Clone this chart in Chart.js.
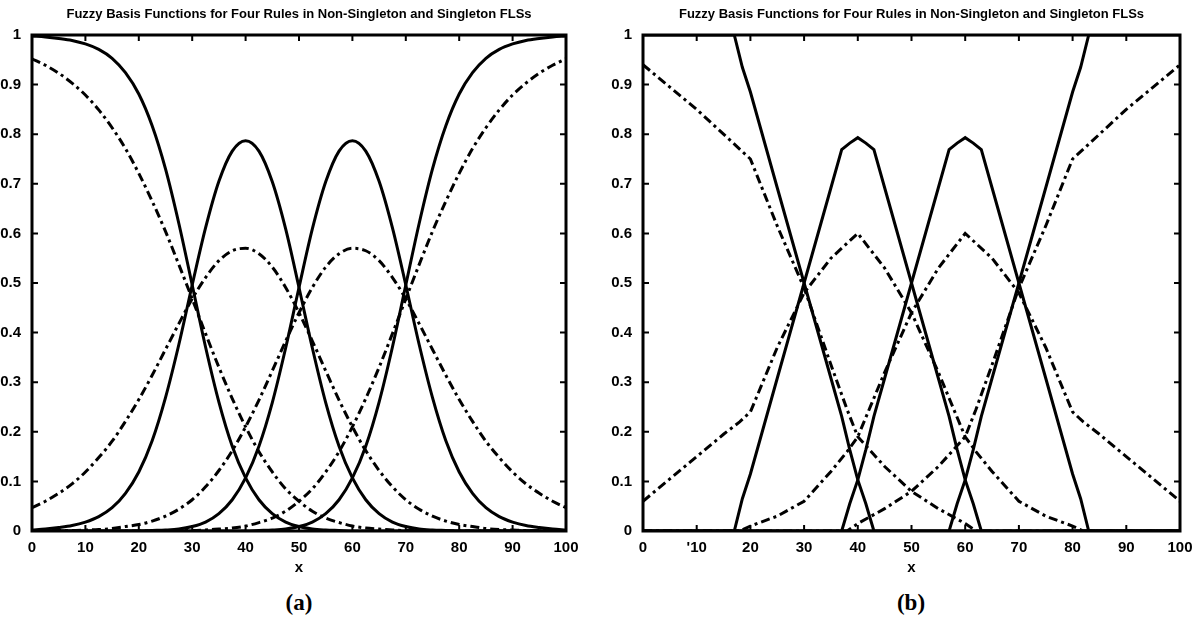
<!DOCTYPE html>
<html>
<head>
<meta charset="utf-8">
<script src="https://cdn.jsdelivr.net/npm/chart.js@4.4.0/dist/chart.umd.min.js"></script>
<style>
  body { margin: 0; background: #fff; width: 1198px; height: 624px; overflow: hidden; position: relative; }
  .panel { position: absolute; top: 0; width: 599px; height: 580px; }
  .caption { position: absolute; top: 590px; width: 100px; text-align: center; color: #000;
             font: bold 23px 'Liberation Serif', 'DejaVu Serif', serif; }
</style>
</head>
<body>
<div class="panel" style="left:0"><canvas id="chartA" width="599" height="580"></canvas></div>
<div class="panel" style="left:599px"><canvas id="chartB" width="599" height="580"></canvas></div>
<div class="caption" style="left:249px">(a)</div>
<div class="caption" style="left:861px">(b)</div>
<script>
const titleText = 'Fuzzy Basis Functions for Four Rules in Non-Singleton and Singleton FLSs';
const xTickLabelsA = ['0', '10', '20', '30', '40', '50', '60', '70', '80', '90', '100'];
const xTickLabelsB = ['0', "'10", '20', '30', '40', '50', '60', '70', '80', '90', '100'];
const yTickLabels = ['0', '0.1', '0.2', '0.3', '0.4', '0.5', '0.6', '0.7', '0.8', '0.9', '1'];

// (a) gaussian rules, sampled every 2.5
const xA = [0, 2.5, 5, 7.5, 10, 12.5, 15, 17.5, 20, 22.5, 25, 27.5, 30, 32.5, 35, 37.5, 40, 42.5, 45, 47.5,
            50, 52.5, 55, 57.5, 60, 62.5, 65, 67.5, 70, 72.5, 75, 77.5, 80, 82.5, 85, 87.5, 90, 92.5, 95, 97.5, 100];

const singletonA1 = [0.998, 0.996, 0.993, 0.989, 0.982, 0.971, 0.953, 0.924, 0.881, 0.817, 0.730, 0.620, 0.496, 0.371,
                     0.260, 0.171, 0.107, 0.063, 0.035, 0.018, 0.009, 0.004, 0.002, 0.001, 0, 0, 0, 0, 0, 0,
                     0, 0, 0, 0, 0, 0, 0, 0, 0, 0, 0];
const singletonA2 = [0.002, 0.004, 0.007, 0.011, 0.018, 0.029, 0.047, 0.076, 0.119, 0.182, 0.269, 0.376, 0.496, 0.611,
                     0.705, 0.766, 0.787, 0.766, 0.704, 0.609, 0.491, 0.369, 0.259, 0.171, 0.107, 0.063, 0.035, 0.018,
                     0.009, 0.004, 0.002, 0.001, 0, 0, 0, 0, 0, 0, 0, 0, 0];
const singletonA3 = [0, 0, 0, 0, 0, 0, 0, 0, 0, 0.001, 0.002, 0.004, 0.009, 0.018, 0.035, 0.063, 0.107, 0.171, 0.259,
                     0.369, 0.491, 0.609, 0.704, 0.766, 0.787, 0.766, 0.705, 0.611, 0.496, 0.376, 0.269, 0.182, 0.119,
                     0.076, 0.047, 0.029, 0.018, 0.011, 0.007, 0.004, 0.002];
const singletonA4 = [0, 0, 0, 0, 0, 0, 0, 0, 0, 0, 0, 0, 0, 0, 0, 0, 0, 0.001, 0.002, 0.004, 0.009, 0.018, 0.035,
                     0.063, 0.107, 0.171, 0.260, 0.371, 0.496, 0.620, 0.730, 0.817, 0.881, 0.924, 0.953, 0.971, 0.982,
                     0.989, 0.993, 0.996, 0.998];

const nonSingletonA1 = [0.952, 0.939, 0.923, 0.903, 0.879, 0.849, 0.813, 0.771, 0.721, 0.665, 0.604, 0.537, 0.468,
                        0.398, 0.330, 0.267, 0.210, 0.160, 0.119, 0.085, 0.060, 0.040, 0.026, 0.017, 0.010, 0.006,
                        0.004, 0.002, 0.001, 0.001, 0, 0, 0, 0, 0, 0, 0, 0, 0, 0, 0];
const nonSingletonA2 = [0.047, 0.060, 0.076, 0.095, 0.119, 0.148, 0.181, 0.221, 0.265, 0.314, 0.366, 0.418, 0.468,
                        0.511, 0.545, 0.565, 0.570, 0.559, 0.532, 0.491, 0.440, 0.383, 0.323, 0.264, 0.210, 0.162,
                        0.122, 0.089, 0.063, 0.044, 0.030, 0.020, 0.013, 0.009, 0.005, 0.003, 0.002, 0.001, 0.001,
                        0.001, 0];
const nonSingletonA3 = [0, 0.001, 0.001, 0.001, 0.002, 0.003, 0.005, 0.009, 0.013, 0.020, 0.030, 0.044, 0.063, 0.089,
                        0.122, 0.162, 0.210, 0.264, 0.323, 0.383, 0.440, 0.491, 0.532, 0.559, 0.570, 0.565, 0.545,
                        0.511, 0.468, 0.418, 0.366, 0.314, 0.265, 0.221, 0.181, 0.148, 0.119, 0.095, 0.076, 0.060,
                        0.047];
const nonSingletonA4 = [0, 0, 0, 0, 0, 0, 0, 0, 0, 0, 0, 0.001, 0.001, 0.002, 0.004, 0.006, 0.010, 0.017, 0.026,
                        0.040, 0.060, 0.085, 0.119, 0.160, 0.210, 0.267, 0.330, 0.398, 0.468, 0.537, 0.604, 0.665,
                        0.721, 0.771, 0.813, 0.849, 0.879, 0.903, 0.923, 0.939, 0.952];

// (b) triangular rules, sampled at the corners
const xSolidB = [0, 5, 10, 15, 17, 18.5, 20, 25, 30, 35, 37, 38.5, 40, 41.5, 43, 45, 50, 55, 57, 58.5, 60, 61.5, 63,
                 65, 70, 75, 80, 81.5, 83, 85, 90, 95, 100];
const singletonB1 = [1, 1, 1, 1, 1, 0.935, 0.885, 0.692, 0.500, 0.308, 0.231, 0.164, 0.103, 0.055, 0,
                     0, 0, 0, 0, 0, 0, 0, 0, 0, 0, 0, 0, 0, 0, 0, 0, 0, 0];
const singletonB2 = [0, 0, 0, 0, 0, 0.065, 0.115, 0.308, 0.500, 0.692, 0.769, 0.782, 0.793, 0.782, 0.769, 0.692,
                     0.500, 0.308, 0.231, 0.164, 0.103, 0.055, 0, 0, 0, 0, 0, 0, 0, 0, 0, 0, 0];
const singletonB3 = [0, 0, 0, 0, 0, 0, 0, 0, 0, 0, 0, 0.055, 0.103, 0.164, 0.231, 0.308, 0.500, 0.692, 0.769,
                     0.782, 0.793, 0.782, 0.769, 0.692, 0.500, 0.308, 0.115, 0.065, 0, 0, 0, 0, 0];
const singletonB4 = [0, 0, 0, 0, 0, 0, 0, 0, 0, 0, 0, 0, 0, 0, 0, 0, 0, 0, 0, 0.055, 0.103, 0.164, 0.231, 0.308,
                     0.500, 0.692, 0.885, 0.935, 1, 1, 1, 1, 1];

const xDashB = [0, 5, 10, 15, 18, 20, 25, 30, 35, 38, 40, 45, 50, 55, 60, 62, 65, 70, 75, 80, 82, 85, 90, 95, 100];
const nonSingletonB1 = [0.94, 0.895, 0.85, 0.80, 0.77, 0.75, 0.615, 0.49, 0.335, 0.245, 0.19, 0.13, 0.08, 0.045,
                        0.015, 0, 0, 0, 0, 0, 0, 0, 0, 0, 0];
const nonSingletonB2 = [0.06, 0.105, 0.15, 0.195, 0.22, 0.24, 0.37, 0.48, 0.55, 0.58, 0.60, 0.53, 0.44, 0.32, 0.19,
                        0.16, 0.12, 0.06, 0.03, 0.01, 0, 0, 0, 0, 0];
const nonSingletonB3 = [0, 0, 0, 0, 0, 0.01, 0.03, 0.06, 0.12, 0.16, 0.19, 0.32, 0.44, 0.53, 0.60, 0.58, 0.55, 0.48,
                        0.37, 0.24, 0.22, 0.195, 0.15, 0.105, 0.06];
const nonSingletonB4 = [0, 0, 0, 0, 0, 0, 0, 0, 0, 0, 0.015, 0.045, 0.08, 0.13, 0.19, 0.245, 0.335, 0.49, 0.615,
                        0.75, 0.77, 0.80, 0.85, 0.895, 0.94];

const labelFont = "'Liberation Sans', Arial, sans-serif";

// Turn an x list and a y list into {x, y} points
function toPoints(xs, ys) {
    return xs.map((x, i) => ({ x: x, y: ys[i] }));
}

function solidLine(xs, ys, smooth) {
    return {
        data: toPoints(xs, ys),
        borderColor: '#000',
        borderWidth: 3,
        pointRadius: 0,
        cubicInterpolationMode: smooth ? 'monotone' : 'default',
        tension: 0
    };
}

function dashDotLine(xs, ys, smooth) {
    const ds = solidLine(xs, ys, smooth);
    ds.borderDash = [9, 4, 3, 4];
    ds.borderCapStyle = 'butt';
    return ds;
}

// Matlab style frame: full box with the ticks pointing inwards
const boxAndTicks = {
    id: 'boxAndTicks',
    afterDatasetsDraw(chart) {
        const { ctx, chartArea, scales } = chart;
        const { left, right, top, bottom } = chartArea;
        ctx.save();
        ctx.strokeStyle = '#000';
        ctx.lineWidth = 2;
        ctx.beginPath();
        scales.x.ticks.forEach(t => {
            const px = scales.x.getPixelForValue(t.value);
            if (px <= left + 1 || px >= right - 1) return;
            ctx.moveTo(px, bottom);
            ctx.lineTo(px, bottom - 6);
            ctx.moveTo(px, top);
            ctx.lineTo(px, top + 6);
        });
        scales.y.ticks.forEach(t => {
            const py = scales.y.getPixelForValue(t.value);
            if (py <= top + 1 || py >= bottom - 1) return;
            ctx.moveTo(left, py);
            ctx.lineTo(left + 6, py);
            ctx.moveTo(right, py);
            ctx.lineTo(right - 6, py);
        });
        ctx.stroke();
        ctx.lineWidth = 3;
        ctx.strokeRect(left, top, right - left, bottom - top);
        ctx.restore();
    }
};

// Function to build one panel
function makeChart(id, datasets, xLabels, yWidth, padRight) {
    const ctx = document.getElementById(id).getContext('2d');
    return new Chart(ctx, {
        type: 'line',
        data: { datasets: datasets },
        options: {
            responsive: false,
            animation: false,
            devicePixelRatio: 1,
            layout: { padding: { left: 0, right: padRight, top: 0, bottom: 0 } },
            plugins: {
                legend: { display: false },
                tooltip: { enabled: false },
                title: {
                    display: true,
                    fullSize: false,
                    text: titleText,
                    color: '#000',
                    font: { family: labelFont, size: 13, weight: 'bold' },
                    padding: { top: 7, bottom: 12.4 }
                }
            },
            scales: {
                x: {
                    type: 'linear',
                    min: 0,
                    max: 100,
                    ticks: {
                        stepSize: 10,
                        color: '#000',
                        padding: 0,
                        maxRotation: 0,
                        font: { family: labelFont, size: 15, weight: 'bold' },
                        callback: (v, i) => xLabels[i]
                    },
                    grid: { display: false },
                    border: { display: false },
                    title: {
                        display: true,
                        text: 'x',
                        color: '#000',
                        font: { family: labelFont, size: 15, weight: 'bold' },
                        padding: { top: 0, bottom: 3 }
                    },
                    afterFit: s => { s.height = 49; }
                },
                y: {
                    min: 0,
                    max: 1,
                    ticks: {
                        stepSize: 0.1,
                        color: '#000',
                        padding: 3,
                        font: { family: labelFont, size: 15, weight: 'bold' },
                        callback: (v, i) => yTickLabels[i]
                    },
                    grid: { display: false },
                    border: { display: false },
                    afterFit: s => { s.width = yWidth; }
                }
            }
        },
        plugins: [boxAndTicks]
    });
}

makeChart('chartA', [
    solidLine(xA, singletonA1, true),
    solidLine(xA, singletonA2, true),
    solidLine(xA, singletonA3, true),
    solidLine(xA, singletonA4, true),
    dashDotLine(xA, nonSingletonA1, true),
    dashDotLine(xA, nonSingletonA2, true),
    dashDotLine(xA, nonSingletonA3, true),
    dashDotLine(xA, nonSingletonA4, true)
], xTickLabelsA, 32, 33);

makeChart('chartB', [
    solidLine(xSolidB, singletonB1, false),
    solidLine(xSolidB, singletonB2, false),
    solidLine(xSolidB, singletonB3, false),
    solidLine(xSolidB, singletonB4, false),
    dashDotLine(xDashB, nonSingletonB1, false),
    dashDotLine(xDashB, nonSingletonB2, false),
    dashDotLine(xDashB, nonSingletonB3, false),
    dashDotLine(xDashB, nonSingletonB4, false)
], xTickLabelsB, 44, 18);
</script>
</body>
</html>
